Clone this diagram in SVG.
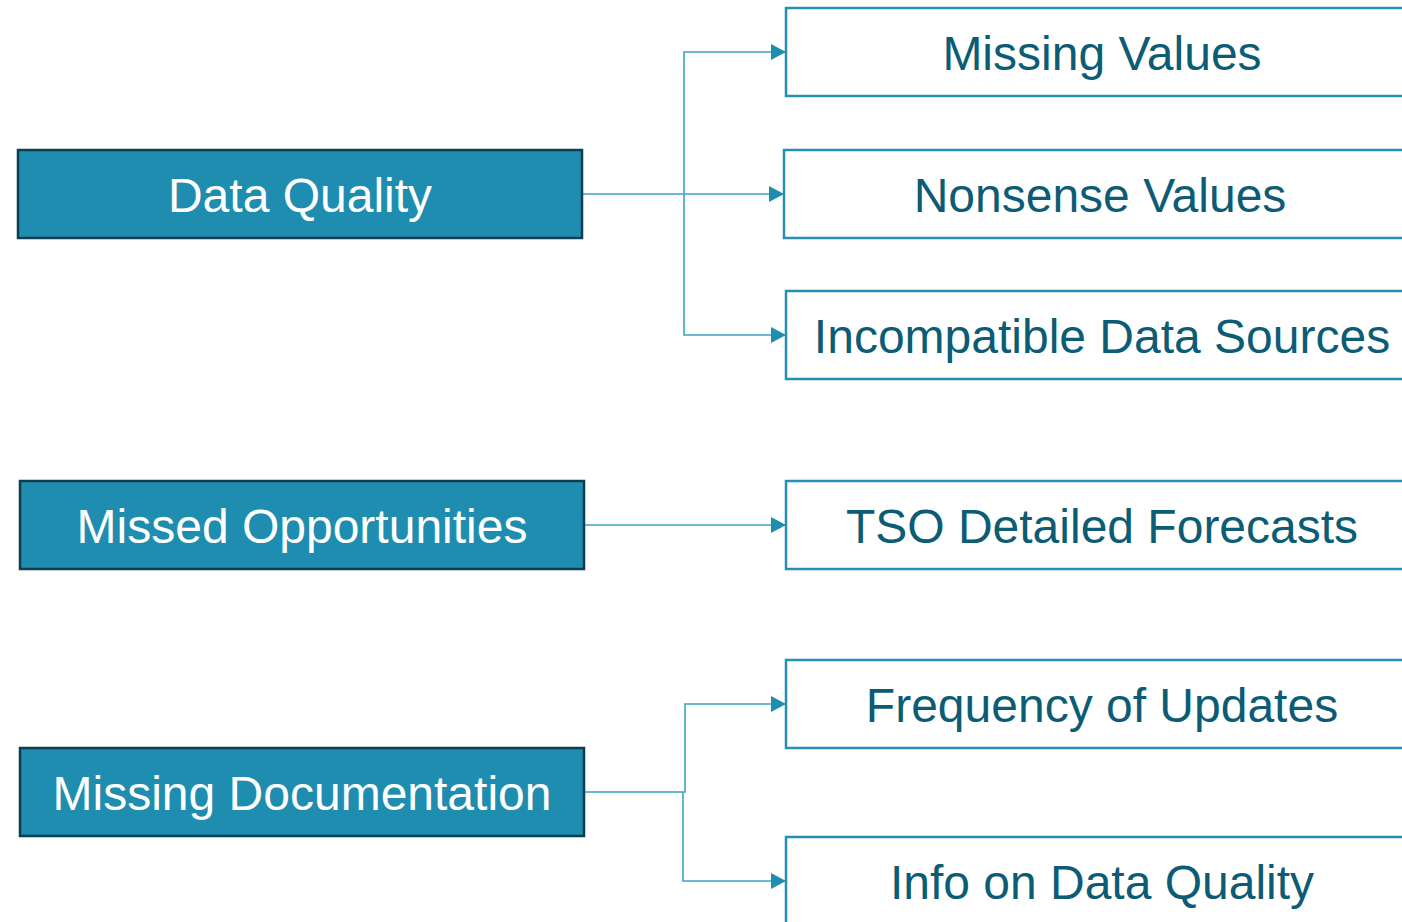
<svg xmlns="http://www.w3.org/2000/svg" width="1402" height="922" viewBox="0 0 1402 922">
<style>
.lb{fill:#1f8db0;stroke:#0d3e50;stroke-width:2.5}
.rb{fill:#ffffff;stroke:#2590b4;stroke-width:2.5}
.lt{font-family:"Liberation Sans",Arial,sans-serif;font-size:48px;fill:#ffffff;text-anchor:middle}
.rt{font-family:"Liberation Sans",Arial,sans-serif;font-size:48px;fill:#0b5c74;text-anchor:middle}
.c{fill:none;stroke:#3ea3c4;stroke-width:1.6}
</style>
<defs>
<marker id="ah" markerWidth="16" markerHeight="16" refX="15" refY="8" orient="auto" markerUnits="userSpaceOnUse">
<path d="M0,0 L15,8 L0,16 Z" fill="#1f8db0"/>
</marker>
</defs>
<rect width="1402" height="922" fill="#ffffff"/>
<g id="connectors">
<path class="c" d="M582,194 H784" marker-end="url(#ah)"/>
<path class="c" d="M684,194 V52 H786" marker-end="url(#ah)"/>
<path class="c" d="M684,194 V335 H786" marker-end="url(#ah)"/>
<path class="c" d="M584,525 H786" marker-end="url(#ah)"/>
<path class="c" d="M584,792 H685 V704 H786" marker-end="url(#ah)"/>
<path class="c" d="M683,792 V881 H786" marker-end="url(#ah)"/>
</g>
<g id="data-quality"><rect class="lb" x="18" y="150" width="564" height="88"/><text class="lt" x="300" y="212">Data Quality</text></g>
<g id="missed-opportunities"><rect class="lb" x="20" y="481" width="564" height="88"/><text class="lt" x="302" y="543">Missed Opportunities</text></g>
<g id="missing-documentation"><rect class="lb" x="20" y="748" width="564" height="88"/><text class="lt" x="302" y="810">Missing Documentation</text></g>
<g id="missing-values"><rect class="rb" x="786" y="8" width="640" height="88"/><text class="rt" x="1102" y="70">Missing Values</text></g>
<g id="nonsense-values"><rect class="rb" x="784" y="150" width="640" height="88"/><text class="rt" x="1100" y="212">Nonsense Values</text></g>
<g id="incompatible-data-sources"><rect class="rb" x="786" y="291" width="640" height="88"/><text class="rt" x="1102" y="353">Incompatible Data Sources</text></g>
<g id="tso-detailed-forecasts"><rect class="rb" x="786" y="481" width="640" height="88"/><text class="rt" x="1102" y="543">TSO Detailed Forecasts</text></g>
<g id="frequency-of-updates"><rect class="rb" x="786" y="660" width="640" height="88"/><text class="rt" x="1102" y="722">Frequency of Updates</text></g>
<g id="info-on-data-quality"><rect class="rb" x="786" y="837" width="640" height="88"/><text class="rt" x="1102" y="899">Info on Data Quality</text></g>
</svg>
